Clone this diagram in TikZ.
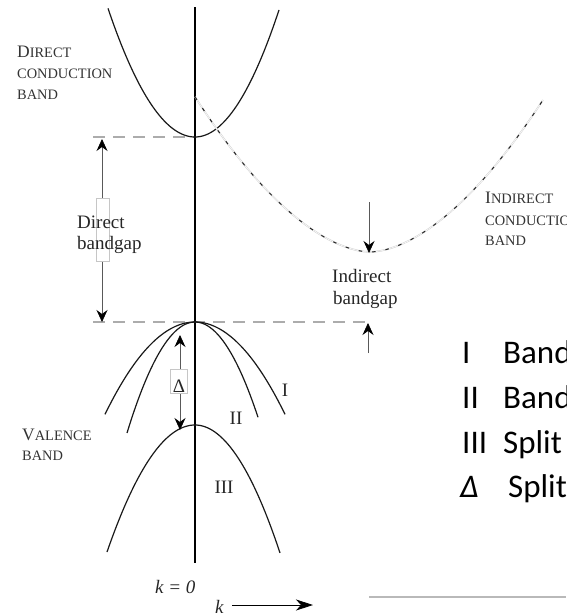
\documentclass[tikz,border=0pt]{standalone}
\usepackage{fontspec}
\setmainfont{Liberation Serif}
\newfontfamily\legendfont{Carlito}
\usetikzlibrary{arrows.meta}
% small-caps style label: larger initial, smaller capitals after it
\newcommand\capword[2]{{\fontsize{17.5}{20}\selectfont #1}{\fontsize{14.4}{16}\selectfont #2}}

\begin{document}
\begin{tikzpicture}[x=1pt, y=-1pt,
  band/.style={line width=1.2pt, black!90},
  axisline/.style={line width=1.3pt, black},
  gapline/.style={gray!65, line width=1.1pt, dash pattern=on 12pt off 8pt},
  tip/.tip={Stealth[length=12pt, width=11pt, inset=4pt, black]},
  measure/.style={gray!70!black, line width=0.7pt},
  gapbox/.style={draw=gray!45, fill=white, line width=0.4pt, inner sep=0pt},
  lbl/.style={inner sep=0pt, font=\fontsize{19}{22}\selectfont, text=black!85},
  caplbl/.style={inner sep=0pt, text=black!80, anchor=base west},
  legend/.style={inner sep=0pt, anchor=base west, font=\legendfont\fontsize{33}{40}\selectfont, text=black}
]
\useasboundingbox (0,0) rectangle (566,616);
\clip (0,0) rectangle (566,616);

% key points
\coordinate (axtop) at (195,7);
\coordinate (axbot) at (195,563);
\coordinate (cbmin) at (195,137);
\coordinate (vbmax) at (195,322);
\coordinate (dl1) at (93,137);
\coordinate (dl2) at (93,322);
\coordinate (dl3) at (368,322);

% energy reference levels
\draw[gapline] (dl1) -- (cbmin);
\draw[gapline] (dl2) -- (vbmax) -- (dl3);

% k = 0 axis
\draw[axisline] (axtop) -- (axbot);

% direct conduction band
\draw[band] plot[domain=-87:0, samples=40] ({195+\x},{137-0.017*\x*\x})
  -- plot[domain=0:84, samples=40] ({195+\x},{137-0.018*\x*\x});

% indirect conduction band
\draw[preaction={draw, gray!35, line width=1.6pt, solid},
      preaction={draw, white, line width=0.5pt, solid},
      black!85, line width=1pt, dash pattern=on 3.5pt off 10pt]
  plot[domain=-175:173, samples=61] ({370+\x},{252-0.0191*abs(\x)^1.743});

% valence bands I, II, III
\draw[band] plot[domain=-90:90, samples=50] ({195+\x},{322+0.0114*\x*\x});
\draw[band] plot[domain=-68:63, samples=50] ({195+\x},{322+0.024*\x*\x});
\draw[band] plot[domain=-88:0, samples=40] ({195+\x},{425+0.0164*\x*\x})
  -- plot[domain=0:85, samples=40] ({195+\x},{425+0.0177*\x*\x});

% direct bandgap
\coordinate (dgtop) at (102,139);
\coordinate (dgbot) at (102,322);
\draw[measure, tip-tip] (dgtop) -- (dgbot);
\node[gapbox, minimum width=13pt, minimum height=63pt] (dgbox) at (102.5,229.5) {};
\node[lbl, anchor=base west] (dg1) at (77,228) {Direct};
\node[lbl, anchor=base west] (dg2) at (77,249) {bandgap};

% indirect bandgap
\coordinate (igtop) at (369,202);
\coordinate (igtip) at (369,253);
\draw[measure, -tip] (igtop) -- (igtip);
\coordinate (iup0) at (368,353);
\coordinate (iup1) at (368,323);
\draw[measure, -tip] (iup0) -- (iup1);
\node[lbl, anchor=base west] (ig1) at (332,282) {Indirect};
\node[lbl, anchor=base west] (ig2) at (333,304) {bandgap};

% spin-orbit splitting
\coordinate (sotop) at (180,335);
\coordinate (sobot) at (180,430);
\draw[measure, tip-tip] (sotop) -- (sobot);
\node[gapbox, minimum width=17pt, minimum height=24pt] (sobox) at (178.5,381) {};
\node[lbl, anchor=base] (sodelta) at (179,392) {Δ};

% band numbers
\node[lbl, anchor=base] (nI) at (285,396) {I};
\node[lbl, anchor=base] (nII) at (236,424) {II};
\node[lbl, anchor=base] (nIII) at (224,493) {III};

% band names
\node[caplbl] (dc1) at (17,57) {\capword{D}{IRECT}};
\node[caplbl] (dc2) at (17,78) {\capword{}{CONDUCTION}};
\node[caplbl] (dc3) at (17,99) {\capword{}{BAND}};
\node[caplbl] (ic1) at (485,203) {\capword{I}{NDIRECT}};
\node[caplbl] (ic2) at (485,225) {\capword{}{CONDUCTION}};
\node[caplbl] (ic3) at (485,245) {\capword{}{BAND}};
\node[caplbl] (vb1) at (22,440) {\capword{V}{ALENCE}};
\node[caplbl] (vb2) at (22,460) {\capword{}{BAND}};

% k axis labels
\node[lbl, anchor=base west] (kzero) at (155,593) {\itshape k = 0};
\node[lbl, anchor=base west] (klbl) at (215,613) {\itshape k};
\coordinate (kstart) at (232,605);
\coordinate (kend) at (313,605);
\draw[black, line width=0.8pt, -{Stealth[length=17pt, width=11pt, inset=5pt]}] (kstart) -- (kend);

% rule at the lower right
\coordinate (gl1) at (369,597);
\coordinate (gl2) at (566,597);
\draw[gray!55, line width=1.2pt] (gl1) -- (gl2);

% legend
\node[legend] (lg1a) at (462,363) {I};
\node[legend] (lg1b) at (503,363) {Band};
\node[legend] (lg2a) at (462,408) {II};
\node[legend] (lg2b) at (503,408) {Band};
\node[legend] (lg3a) at (462,453) {III};
\node[legend] (lg3b) at (503,453) {Split};
\node[legend] (lg4a) at (460,497) {\itshape Δ};
\node[legend] (lg4b) at (508,497) {Split};
\end{tikzpicture}
\end{document}
